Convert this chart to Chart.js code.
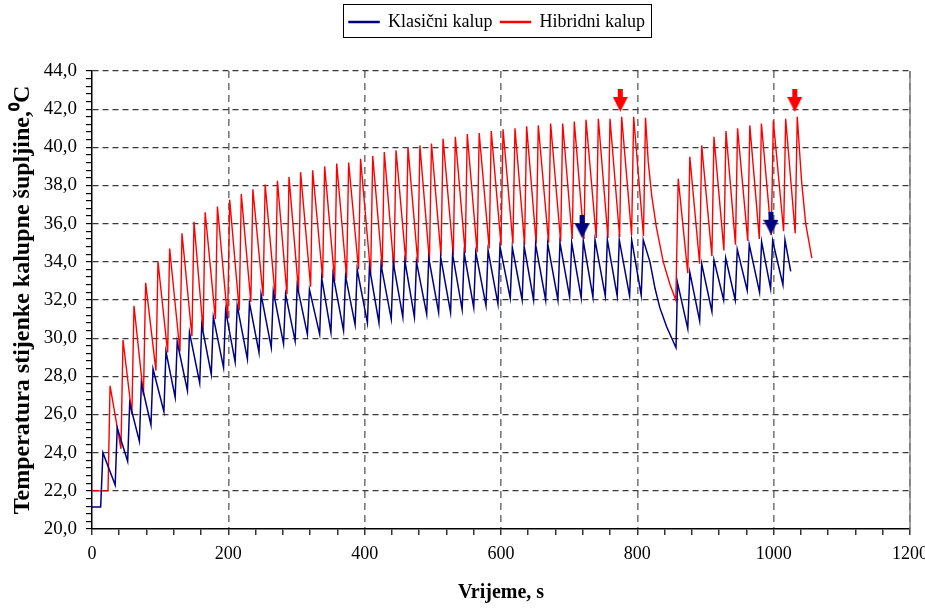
<!DOCTYPE html>
<html>
<head>
<meta charset="utf-8">
<script src="https://cdn.jsdelivr.net/npm/chart.js@4.4.1/dist/chart.umd.min.js"></script>
<style>
  html, body { margin: 0; padding: 0; background: #fff; }
  #wrap { width: 925px; height: 611px; }
</style>
</head>
<body>
<div id="wrap"><canvas id="temp_chart"></canvas></div>
<script>
// time (s) and wall temperature (degC) at each turning point
const red_time = [0, 23.5, 26.5, 42.5, 45.5, 58.5, 61.6, 75.5, 78.7, 93.8, 96.8, 111, 113.9, 129, 132, 146.6, 149.6, 163, 166, 181, 184, 199, 202, 216, 219, 233, 236, 251, 254, 269, 272, 286, 289, 303, 306, 320.7, 323.7, 338.3, 341.3, 356, 359, 373.5, 376.5, 391, 394, 408.8, 411.8, 425.8, 428.8, 443, 446, 460.5, 463.5, 478, 481, 495, 498, 512, 515, 530, 533, 547.5, 550.5, 565, 568, 582.7, 585.7, 600, 603, 617.5, 620.5, 634.6, 637.6, 651.7, 654.7, 669.8, 672.8, 687.5, 690.5, 704.5, 707.5, 721.7, 724.7, 739.8, 742.8, 756.9, 759.9, 774, 777, 791.6, 794.6, 809, 812, 816, 821, 828, 838, 848, 856.5, 860, 874, 877, 891.4, 894.4, 909.4, 912.4, 927, 930, 944, 947, 962, 965, 979, 982, 996.5, 999.5, 1014.6, 1017.6, 1031.6, 1034.6, 1041, 1047, 1056];
const red_temp = [22.0, 22.0, 27.5, 24.2, 29.9, 26.0, 31.7, 27.0, 32.9, 28.3, 34.0, 29.25, 34.7, 29.3, 35.5, 30.1, 36.1, 30.4, 36.6, 31.0, 36.9, 31.0, 37.25, 31.45, 37.55, 31.9, 37.8, 32.2, 38.05, 32.1, 38.25, 32.3, 38.45, 32.45, 38.7, 32.7, 38.8, 33.15, 39.0, 33.0, 39.15, 33.15, 39.2, 33.6, 39.4, 33.35, 39.55, 33.7, 39.75, 33.6, 39.85, 34.0, 40.0, 33.95, 40.1, 34.05, 40.2, 34.3, 40.45, 34.35, 40.55, 34.45, 40.7, 34.5, 40.75, 34.7, 40.85, 34.9, 40.95, 34.95, 41.0, 34.9, 41.1, 34.95, 41.15, 35.0, 41.25, 35.05, 41.25, 35.2, 41.35, 35.2, 41.45, 35.25, 41.5, 35.25, 41.5, 35.3, 41.6, 35.4, 41.6, 35.35, 41.55, 39.25, 37.5, 35.8, 34.0, 32.8, 32.0, 38.35, 33.4, 39.5, 33.9, 40.1, 34.3, 40.55, 34.6, 40.85, 34.9, 41.0, 35.1, 41.15, 35.2, 41.25, 35.4, 41.4, 35.6, 41.5, 35.5, 41.6, 38.2, 36.0, 34.2];

const blue_time = [0, 12.7, 16, 34, 37, 52.3, 55.3, 69.5, 72.4, 86.5, 89.5, 105.5, 108.5, 122, 125, 140, 143, 158, 161, 175, 178, 193, 196, 210, 213, 228, 231, 245, 248, 263, 266, 281, 284, 298, 301, 316, 319, 334, 337, 350.5, 353.5, 369, 372, 386, 389, 404, 407, 421, 424, 439, 442, 456, 459, 473, 476, 491, 494, 508.5, 511.5, 526, 529, 543, 546, 560, 563, 578, 581, 595.5, 598.5, 613.6, 616.6, 631, 634, 647.8, 650.8, 665.5, 668.5, 683.5, 686.5, 700.7, 703.7, 717.7, 720.7, 734.9, 737.9, 753, 756, 770.5, 773.5, 788.7, 791.7, 805.7, 808.7, 818.5, 826, 833, 843, 856.7, 859, 874, 877, 891.4, 894.4, 909.4, 912.4, 926.6, 929.6, 943.6, 946.6, 961.2, 964.2, 979.3, 982.3, 995.5, 998.5, 1013.6, 1016.6, 1025];
const blue_temp = [21.15, 21.15, 24.0, 22.3, 25.3, 23.55, 26.6, 24.6, 27.65, 25.45, 28.4, 26.15, 29.3, 26.9, 29.8, 27.25, 30.3, 27.65, 30.7, 28.1, 31.1, 28.45, 31.45, 28.75, 31.7, 28.9, 31.85, 29.25, 32.3, 29.5, 32.45, 29.7, 32.3, 29.85, 32.75, 30.2, 32.55, 30.2, 33.15, 30.3, 33.35, 30.4, 33.25, 30.7, 33.6, 30.8, 33.7, 30.8, 33.85, 31.0, 33.95, 31.1, 34.05, 31.1, 34.0, 31.25, 34.2, 31.35, 34.25, 31.35, 34.4, 31.5, 34.45, 31.6, 34.5, 31.7, 34.6, 31.8, 34.8, 32.1, 34.75, 32.0, 34.8, 32.0, 34.9, 32.0, 34.95, 32.0, 35.0, 32.15, 35.0, 32.1, 35.1, 32.15, 35.15, 32.2, 35.15, 32.2, 35.15, 32.2, 35.15, 32.25, 35.15, 34.0, 32.6, 31.6, 30.6, 29.5, 32.9, 30.5, 33.45, 30.9, 33.9, 31.4, 34.1, 32.0, 34.2, 32.0, 34.65, 32.5, 34.9, 32.4, 35.05, 32.6, 35.1, 32.8, 35.15, 33.5];

// marker arrows (centre of each arrow)
const red_arrow_time = [775, 1031];
const red_arrow_temp = [42.46, 42.46];
const blue_arrow_time = [719, 996];
const blue_arrow_temp = [35.84, 36.02];

const series_names = ["Klasični kalup", "Hibridni kalup"];
const blue = "#000080";
const red = "#ff0000";

const to_points = (xs, ys) => xs.slice(0, Math.min(xs.length, ys.length)).map((x, i) => ({ x: x, y: ys[i] }));

const make_arrow = (color) => {
  // small down pointing arrow used as point style
  const c = document.createElement("canvas");
  c.width = 15;
  c.height = 23;
  const g = c.getContext("2d");
  g.fillStyle = color;
  g.fillRect(5, 0, 5, 9);
  g.beginPath();
  g.moveTo(0, 8);
  g.lineTo(15, 8);
  g.lineTo(7.5, 23);
  g.closePath();
  g.fill();
  return c;
};

const is_major = (v, step) => Math.abs(v / step - Math.round(v / step)) < 1e-6;
const serif = "'Liberation Serif', 'Times New Roman', serif";

const legend_plugin = {
  id: "legend_place",
  beforeInit: (chart) => {
    // leave a gap between legend and plot
    const fit = chart.legend.fit;
    chart.legend.fit = function () {
      fit.bind(chart.legend)();
      this.height += 30;
    };
  },
  afterUpdate: (chart) => {
    // centre legend over the plot area, not the canvas
    const lg = chart.legend;
    const ca = chart.chartArea;
    const dx = (ca.left + ca.right) / 2 - (lg.left + lg.right) / 2 - 4;
    lg.left += dx;
    lg.right += dx;
  },
};

const frame_plugin = {
  id: "frame",
  afterDraw: (chart) => {
    const ctx = chart.ctx;
    const area = chart.chartArea;
    const lg = chart.legend;
    ctx.save();
    // right border of plot
    ctx.strokeStyle = "#808080";
    ctx.lineWidth = 1.5;
    ctx.beginPath();
    ctx.moveTo(area.right, area.top);
    ctx.lineTo(area.right, area.bottom);
    ctx.stroke();
    // box round legend items
    const items_width = lg.lineWidths[0] - 8;
    const left = (lg.left + lg.right) / 2 - items_width / 2 - 6;
    ctx.strokeStyle = "#000";
    ctx.lineWidth = 1;
    ctx.strokeRect(Math.round(left) + 0.5, Math.round(lg.top) - 0.5, Math.round(items_width + 12), 33);
    ctx.restore();
  },
};

Chart.defaults.font.family = serif;
Chart.defaults.color = "#000";

const data_temp = {
  datasets: [
    {
      label: series_names[0],
      data: to_points(blue_time, blue_temp),
      borderColor: blue,
      backgroundColor: blue,
      borderWidth: 1.5,
      pointRadius: 0,
      tension: 0,
    },
    {
      label: series_names[1],
      data: to_points(red_time, red_temp),
      borderColor: red,
      backgroundColor: red,
      borderWidth: 1.4,
      pointRadius: 0,
      tension: 0,
    },
    {
      label: "arrow_red",
      data: to_points(red_arrow_time, red_arrow_temp),
      showLine: false,
      pointStyle: make_arrow(red),
      pointRadius: 10,
      order: -1,
    },
    {
      label: "arrow_blue",
      data: to_points(blue_arrow_time, blue_arrow_temp),
      showLine: false,
      pointStyle: make_arrow(blue),
      pointRadius: 10,
      order: -1,
    },
  ],
};

const config_temp = {
  type: "line",
  data: data_temp,
  options: {
    responsive: true,
    maintainAspectRatio: false,
    animation: false,
    layout: { padding: { top: 5, right: 15, left: 0, bottom: 0 } },
    plugins: {
      tooltip: { enabled: false },
      legend: {
        display: true,
        position: "top",
        labels: {
          filter: (item) => !item.text.startsWith("arrow"),
          sort: (a, b) => a.datasetIndex - b.datasetIndex,
          boxWidth: 30,
          boxHeight: 1,
          padding: 8,
          font: { size: 18, family: serif },
          color: "#000",
        },
      },
    },
    scales: {
      x: {
        type: "linear",
        min: 0,
        max: 1200,
        afterFit: (scale) => {
          scale.paddingLeft = 0;
          scale.paddingRight = 0;
          scale.height = 82;
        },
        ticks: {
          stepSize: 40,
          autoSkip: false,
          maxRotation: 0,
          padding: 8,
          font: { size: 18, family: serif },
          callback: (v) => (is_major(v, 200) ? String(v) : ""),
        },
        grid: {
          color: (c) => (c.tick && is_major(c.tick.value, 200) && c.tick.value > 0 ? "#7a7a7a" : "rgba(0,0,0,0)"),
          lineWidth: 1.6,
          tickColor: "#000",
          tickLength: 6,
          tickWidth: 1.2,
        },
        border: { color: "#000", width: 1.5, dash: [7, 5] },
        title: {
          display: true,
          text: "Vrijeme, s",
          font: { size: 20, weight: "bold", family: serif },
          padding: { top: 10, bottom: 6 },
        },
      },
      y: {
        type: "linear",
        min: 20,
        max: 44,
        afterFit: (scale) => {
          scale.width = 92;
          scale.paddingTop = 0;
          scale.paddingBottom = 0;
        },
        ticks: {
          stepSize: 0.4,
          autoSkip: false,
          padding: 9,
          font: { size: 19, family: serif },
          callback: (v) => (is_major(v, 2) ? v.toFixed(1).replace(".", ",") : ""),
        },
        grid: {
          color: (c) => (c.tick && is_major(c.tick.value, 2) && c.tick.value > 20 ? "#3a3a3a" : "rgba(0,0,0,0)"),
          lineWidth: 1.2,
          tickColor: "#000",
          tickLength: 6,
          tickWidth: 1.2,
        },
        border: { color: "#000", width: 1.5, dash: [6, 4] },
        title: {
          display: true,
          text: "Temperatura stijenke kalupne šupljine,⁰C",
          font: { size: 24, weight: "bold", family: serif },
          padding: { top: 8, bottom: 0 },
        },
      },
    },
  },
  plugins: [legend_plugin, frame_plugin],
};

var ctx_temp = document.getElementById("temp_chart");
var temp_chart = new Chart(ctx_temp, config_temp);
</script>
</body>
</html>
